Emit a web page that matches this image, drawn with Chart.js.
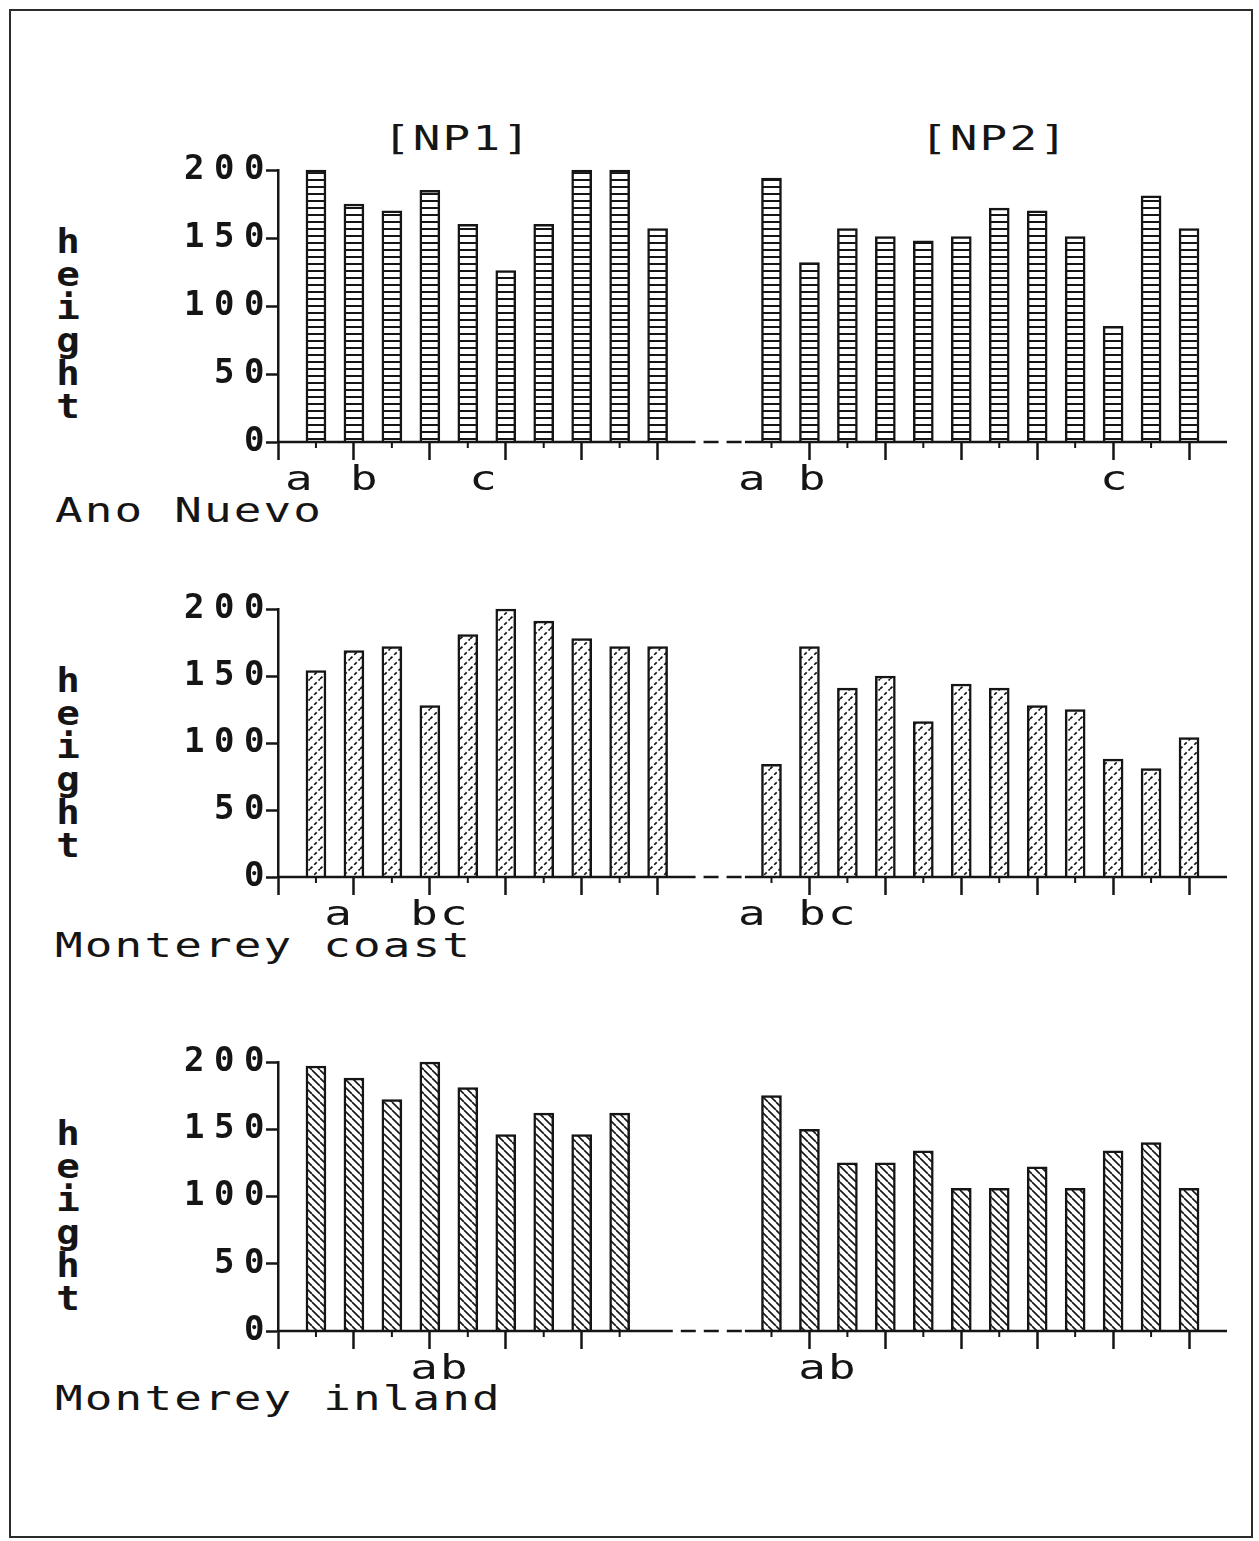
<!DOCTYPE html>
<html>
<head>
<meta charset="utf-8">
<title>Plant height by site and population</title>
<script src="https://cdn.jsdelivr.net/npm/chart.js@4.4.1/dist/chart.umd.min.js"></script>
<style>
  html, body { margin: 0; padding: 0; background: #fff; }
  body { width: 1259px; height: 1541px; position: relative; overflow: hidden;
         font-family: "DejaVu Sans Mono", monospace; color: #151515; }
  .frame { position: absolute; left: 9px; top: 9px; width: 1240px; height: 1525px;
           border: 2px solid #2b2b2b; }
  .txt { position: absolute; font-size: 34px; line-height: 33px; letter-spacing: 1.6px;
         white-space: pre; transform: scaleX(1.35); transform-origin: 0 0; }
  .vlab { position: absolute; font-size: 34px; line-height: 33px; font-weight: bold;
          width: 30px; text-align: center; white-space: pre;
          transform: scaleX(1.15); transform-origin: 50% 0; }
  canvas { position: absolute; left: 0; }
</style>
</head>
<body>
<div class="frame"></div>
<div id="texts"></div>
<canvas id="row1"></canvas>
<canvas id="row2"></canvas>
<canvas id="row3"></canvas>
<script>
// ---- data ----
const siteNames = ['Ano Nuevo', 'Monterey coast', 'Monterey inland'];
const populations = ['[NP1]', '[NP2]'];
const yAxisTitle = 'height';
const yTickValues = [0, 50, 100, 150, 200];

const anoNuevoNP1 = [200, 175, 170, 185, 160, 126, 160, 200, 200, 157];
const anoNuevoNP2 = [194, 132, 157, 151, 148, 151, 172, 170, 151, 85, 181, 157];
const coastNP1 = [154, 169, 172, 128, 181, 200, 191, 178, 172, 172];
const coastNP2 = [84, 172, 141, 150, 116, 144, 141, 128, 125, 88, 81, 104];
const inlandNP1 = [197, 188, 172, 200, 181, 146, 162, 146, 162];
const inlandNP2 = [175, 150, 125, 125, 134, 106, 106, 122, 106, 134, 140, 106];

const anoNuevoLetters = [['a', 'b', 'c'], ['a', 'b', 'c']];
const coastLetters = [['a', 'bc'], ['a', 'bc']];
const inlandLetters = [['ab'], ['ab']];

// ---- layout ----
const INK = '#151515';
const NP1_FIRST = 1;      // x position of the first NP1 bar
const NP2_FIRST = 13;     // x position of the first NP2 bar
const X_MAX = 25;
const PAD_TOP = 40, X_AXIS_H = 60, Y_AXIS_W = 278, PAD_RIGHT = 32;
const TEXT_STRETCH = 1.35;

const rowLayout = [
  { top: 170,  bottom: 442,  gap: [11.0, 12.3], letterAt: [[0.58, 2.29, 5.43], [12.51, 14.09, 22.05]],
    labelTop: 494 },
  { top: 609,  bottom: 877,  gap: [11.0, 12.3], letterAt: [[1.61, 4.27], [12.51, 14.49]],
    labelTop: 929 },
  { top: 1062, bottom: 1331, gap: [10.4, 12.3], letterAt: [[4.27], [14.49]],
    labelTop: 1382 }
];

// ---- fill patterns ----
function makeTile(w, h, draw) {
  const c = document.createElement('canvas');
  c.width = w; c.height = h;
  const g = c.getContext('2d');
  g.fillStyle = '#fff'; g.fillRect(0, 0, w, h);
  g.strokeStyle = INK; g.fillStyle = INK;
  draw(g, w, h);
  return g.createPattern(c, 'repeat');
}
const fills = {
  stripe: makeTile(8, 7, (g, w) => { g.fillRect(0, 0, w, 2); }),
  slash: makeTile(10, 10, (g, w, h) => {
    g.lineWidth = 1.7; g.setLineDash([3.5, 2.5]);
    for (const o of [-w, 0, w]) { g.beginPath(); g.moveTo(o, h); g.lineTo(o + w, 0); g.stroke(); }
  }),
  backslash: makeTile(8, 8, (g, w, h) => {
    g.lineWidth = 1.6;
    for (const o of [-w, 0, w]) { g.beginPath(); g.moveTo(o, 0); g.lineTo(o + w, h); g.stroke(); }
  })
};

const rows = [
  { id: 'row1', np1: anoNuevoNP1, np2: anoNuevoNP2, letters: anoNuevoLetters, fill: fills.stripe },
  { id: 'row2', np1: coastNP1, np2: coastNP2, letters: coastLetters, fill: fills.slash },
  { id: 'row3', np1: inlandNP1, np2: inlandNP2, letters: inlandLetters, fill: fills.backslash }
];

// ---- static text ----
const texts = document.getElementById('texts');
function addText(cls, str, left, top) {
  const d = document.createElement('div');
  d.className = cls; d.textContent = str;
  d.style.left = left + 'px'; d.style.top = top + 'px';
  texts.appendChild(d);
}
addText('txt', populations[0], 383, 122);
addText('txt', populations[1], 920, 122);
rowLayout.forEach((L, r) => {
  addText('vlab', yAxisTitle.split('').join('\n'), 53, L.top + 55);
  addText('txt', siteNames[r], 55, L.labelTop);
});

// ---- charts ----
function barSeries(values, firstX) {
  return values.map((v, i) => ({ x: firstX + i, y: v }));
}

function makeDecor(row, L, slots) {
  return {
    id: 'axisDecor',
    beforeDraw(chart) { chart.ctx.letterSpacing = '9.5px'; },
    afterDraw(chart) {
      const ctx = chart.ctx, xs = chart.scales.x, ys = chart.scales.y;
      const y0 = ys.getPixelForValue(0);
      const px = v => xs.getPixelForValue(v);
      ctx.save();
      ctx.letterSpacing = '0px';
      ctx.strokeStyle = INK; ctx.lineWidth = 2.5;
      // axis: solid, dashed across the gap between populations, solid again
      ctx.beginPath(); ctx.moveTo(px(0), y0); ctx.lineTo(px(L.gap[0]), y0);
      ctx.moveTo(px(L.gap[1]), y0); ctx.lineTo(px(X_MAX), y0); ctx.stroke();
      ctx.setLineDash([15, 8]);
      ctx.beginPath(); ctx.moveTo(px(L.gap[0]) + 8, y0); ctx.lineTo(px(L.gap[1]), y0); ctx.stroke();
      ctx.setLineDash([]);
      // short ticks under the odd bar slots
      ctx.lineWidth = 2;
      ctx.beginPath();
      slots.forEach(s => { if (s % 2 === 1) { ctx.moveTo(px(s), y0); ctx.lineTo(px(s), y0 + 6); } });
      ctx.stroke();
      // group letters, stretched to the wide plotter lettering
      ctx.fillStyle = INK;
      ctx.font = '34px "DejaVu Sans Mono"';
      ctx.letterSpacing = '1.6px';
      ctx.textAlign = 'center'; ctx.textBaseline = 'alphabetic';
      row.letters.forEach((grp, g) => grp.forEach((t, k) => {
        ctx.save();
        ctx.translate(px(L.letterAt[g][k]), y0 + 48);
        ctx.scale(TEXT_STRETCH, 1);
        ctx.fillText(t, 0, 0);
        ctx.restore();
      }));
      ctx.restore();
    }
  };
}

rows.forEach((row, r) => {
  const L = rowLayout[r];
  const cv = document.getElementById(row.id);
  const h = (L.bottom - L.top) + PAD_TOP + X_AXIS_H;
  cv.width = 1259; cv.height = h;
  cv.style.top = (L.top - PAD_TOP) + 'px';
  const slots = new Set();
  row.np1.forEach((_, i) => slots.add(NP1_FIRST + i));
  row.np2.forEach((_, i) => slots.add(NP2_FIRST + i));

  const barStyle = {
    backgroundColor: row.fill, borderColor: INK,
    borderWidth: { top: 2.5, left: 2.5, right: 2.5, bottom: 0 },
    barThickness: 20, grouped: false, clip: false
  };

  new Chart(cv, {
    type: 'bar',
    data: {
      datasets: [
        Object.assign({ label: populations[0], data: barSeries(row.np1, NP1_FIRST) }, barStyle),
        Object.assign({ label: populations[1], data: barSeries(row.np2, NP2_FIRST) }, barStyle)
      ]
    },
    options: {
      responsive: false, animation: false, devicePixelRatio: 1,
      layout: { padding: { top: PAD_TOP, right: PAD_RIGHT, left: 0, bottom: 0 } },
      plugins: { legend: { display: false }, tooltip: { enabled: false } },
      scales: {
        x: {
          type: 'linear', min: 0, max: X_MAX, offset: false,
          afterFit(s) { s.height = X_AXIS_H; },
          border: { display: false },
          grid: {
            offset: false, drawOnChartArea: false, drawTicks: true, tickLength: 18, tickWidth: 2.5,
            tickColor(c) {
              const v = c.tick ? c.tick.value : -1;
              return (v === 0 || (v % 2 === 0 && slots.has(v))) ? INK : 'rgba(0,0,0,0)';
            }
          },
          ticks: { stepSize: 1, autoSkip: false, maxRotation: 0, callback: () => '' }
        },
        y: {
          min: 0, max: 200,
          afterFit(s) { s.width = Y_AXIS_W; },
          afterBuildTicks(s) { s.ticks = yTickValues.map(v => ({ value: v })); },
          border: { color: INK, width: 2.5 },
          grid: { drawOnChartArea: false, tickLength: 12, tickWidth: 2.5, tickColor: INK },
          ticks: { color: INK, padding: -8,
                   font: { family: '"DejaVu Sans Mono"', size: 34, weight: 'bold' } }
        }
      }
    },
    plugins: [makeDecor(row, L, slots)]
  });
});
</script>
</body>
</html>
